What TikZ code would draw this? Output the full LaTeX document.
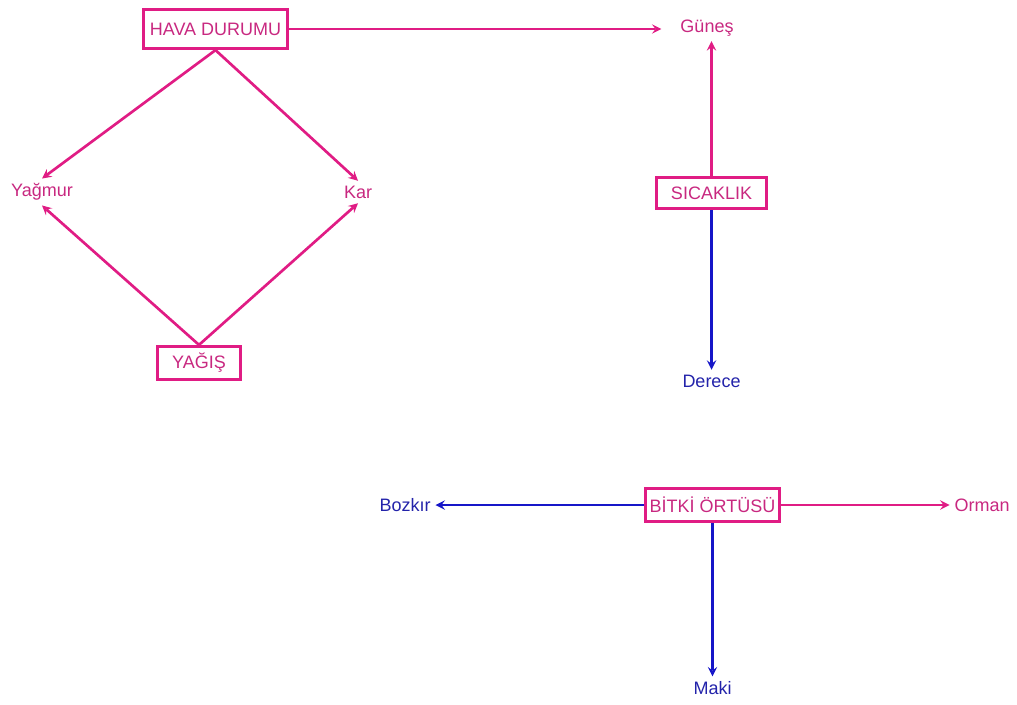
\documentclass[tikz,border=0pt]{standalone}
\usepackage{fontspec}
\setmainfont{Liberation Sans}
\usetikzlibrary{arrows,positioning}
\definecolor{pembe}{RGB}{224,28,132}
\definecolor{pembeyazi}{RGB}{200,40,128}
\definecolor{mavi}{RGB}{22,22,200}
\definecolor{maviyazi}{RGB}{35,35,170}

\begin{document}
\begin{tikzpicture}[x=0.025cm,y=-0.025cm,
                      font=\fontsize{12.8pt}{15pt}\selectfont,
                      kutu/.style={draw=pembe,line width=2.3pt,text=pembeyazi,inner sep=0pt},
                      pembeyazi/.style={text=pembeyazi},
                      maviyazi/.style={text=maviyazi},
                      pembeok/.style={draw=pembe,line width=1.9pt,-stealth},
                      maviok/.style={draw=mavi,line width=1.9pt,-stealth}]
                      \useasboundingbox (0,0) rectangle (1017,704);
                      % Boxes
                      \node[kutu,minimum width=3.6cm,minimum height=0.975cm] (hava) at (215.5,29) {HAVA DURUMU};
                      \node[kutu,minimum width=2.75cm,minimum height=0.775cm] (sicaklik) at (711.5,193) {SICAKLIK};
                      \node[kutu,minimum width=2.075cm,minimum height=0.825cm] (yagis) at (199,363) {YAĞIŞ};
                      \node[kutu,minimum width=3.35cm,minimum height=0.825cm] (bitki) at (712.5,505) {BİTKİ ÖRTÜSÜ};
                      % Labels
                      \node[pembeyazi] (gunes) at (707,28) {Güneş};
                      \node[pembeyazi] (yagmur) at (42,192) {Yağmur};
                      \node[pembeyazi] (kar) at (358,192) {Kar};
                      \node[pembeyazi] (orman) at (982,505) {Orman};
                      \node[maviyazi] (derece) at (711.5,381) {Derece};
                      \node[maviyazi] (bozkir) at (405,505) {Bozkır};
                      \node[maviyazi] (maki) at (712.5,688) {Maki};
                      % Arrows
                      \draw[pembeok,shorten >=10pt] (hava.east) -- (gunes.west |- hava.east);
                      \draw[pembeok] (hava.south) -- (yagmur.north);
                      \draw[pembeok] (hava.south) -- (kar.north);
                      \draw[pembeok] (yagis.north) -- (yagmur.south);
                      \draw[pembeok] (yagis.north) -- (kar.south);
                      \draw[pembeok] (sicaklik.north) -- (sicaklik.north |- gunes.south);
                      \draw[maviok] (sicaklik.south) -- (derece.north);
                      \draw[maviok] (bitki.west) -- (bozkir.east);
                      \draw[pembeok] (bitki.east) -- (orman.west);
                      \draw[maviok] (bitki.south) -- (maki.north);
                  \end{tikzpicture}
\end{document}
